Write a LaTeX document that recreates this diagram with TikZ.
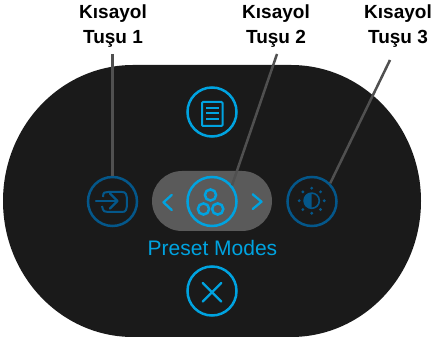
\documentclass[tikz,border=0pt]{standalone}
\usepackage{fontspec}
\usetikzlibrary{calc}
\setmainfont{Liberation Sans}
\definecolor{body}{HTML}{1A1A1A}
\definecolor{pillgray}{HTML}{5A5A5A}
\definecolor{leadgray}{HTML}{505050}
\definecolor{bright}{HTML}{00A3E0}
\definecolor{dim}{HTML}{04578A}
\tikzset{
  btn/.style={circle,draw=#1,line width=2.5pt,minimum size=49pt,inner sep=0pt},
  glyph/.style={draw=#1,line width=2.3pt,line cap=round,line join=round},
  lead/.style={draw=leadgray,line width=2.5pt},
  keylabel/.style={font=\fontsize{19}{25.5}\selectfont\bfseries,align=center,text=black,inner sep=0pt,anchor=base}
}
\begin{document}
\begin{tikzpicture}[x=1pt,y=-1pt]
\useasboundingbox (0,0) rectangle (434,344);
% body
\fill[body] (133,65) -- (291,65) arc[start angle=90,end angle=-90,x radius=130pt,y radius=136pt] -- (133,337) arc[start angle=270,end angle=90,x radius=130pt,y radius=136pt] -- cycle;
% selector pill
\fill[pillgray,rounded corners=30pt] (152,171) rectangle (272,231);
% labels
\node[keylabel] (k1) at (113,44) {Kısayol\\Tuşu 1};
\node[keylabel] (k2) at (276,44) {Kısayol\\Tuşu 2};
\node[keylabel] (k3) at (398,44) {Kısayol\\Tuşu 3};
% buttons
\node[btn=bright] (menu) at (212,112) {};
\node[btn=dim] (b1) at (112.5,201.5) {};
\node[btn=bright] (b2) at (212,201.5) {};
\node[btn=dim] (b3) at (312,201.5) {};
\node[btn=bright] (close) at (212,291) {};
% connectors
\coordinate (t1) at (112.5,54);
\coordinate (t2) at (277,54);
\coordinate (t3) at (390,60);
\draw[lead] (t1) -- (b1.north);
\draw[lead] (t2) -- (b2.39);
\draw[lead] (t3) -- (b3.45);
% text
\node[text=bright,font=\fontsize{21}{25}\selectfont,inner sep=0pt,anchor=base] (pm) at (212.5,256) {Preset Modes};
% menu icon
\draw[bright,line width=2pt,rounded corners=1pt] (202,102) rectangle (222.5,126);
\foreach \yy in {107.7,113.3,119}{\draw[bright,line width=1.8pt] (206,\yy) -- (218.5,\yy);}
% input icon
\draw[dim,line width=2pt] (103,197) .. controls (103,192) and (105,192) .. (108,192) -- (122,192) .. controls (126,192) and (127,194) .. (127,202) .. controls (127,210) and (126,212) .. (122,212) -- (108,212) .. controls (105,212) and (103,212) .. (102,206);
\draw[glyph=dim] (96,201) -- (117,201);
\draw[glyph=dim] (110,193.5) -- (117.5,201) -- (110,208.5);
% selector icon
\draw[glyph=bright] (171.7,195) -- (163.5,202.3) -- (171.7,210);
\draw[glyph=bright] (252.7,194.3) -- (261.5,201.7) -- (252.7,209);
\foreach \cx/\cy in {210.5/195,203.5/209,217.7/209}{\draw[bright,line width=2.5pt] (\cx,\cy) circle[radius=5.6pt];}
% brightness icon
\coordinate (sun) at (311.7,200.7);
\draw[dim,line width=1.6pt] (sun) circle[radius=7.6pt];
\fill[dim] (311.7,192.9) arc[start angle=90,end angle=270,radius=7.8pt] -- cycle;
\foreach \aa in {0,45,...,315}{\fill[dim] ($(sun)+(\aa:12.5pt)$) circle[radius=1.6pt];}
% close icon
\draw[glyph=bright] (202.7,283) -- (221.3,301.5);
\draw[glyph=bright] (221.3,283) -- (202.7,301.5);
\end{tikzpicture}
\end{document}
